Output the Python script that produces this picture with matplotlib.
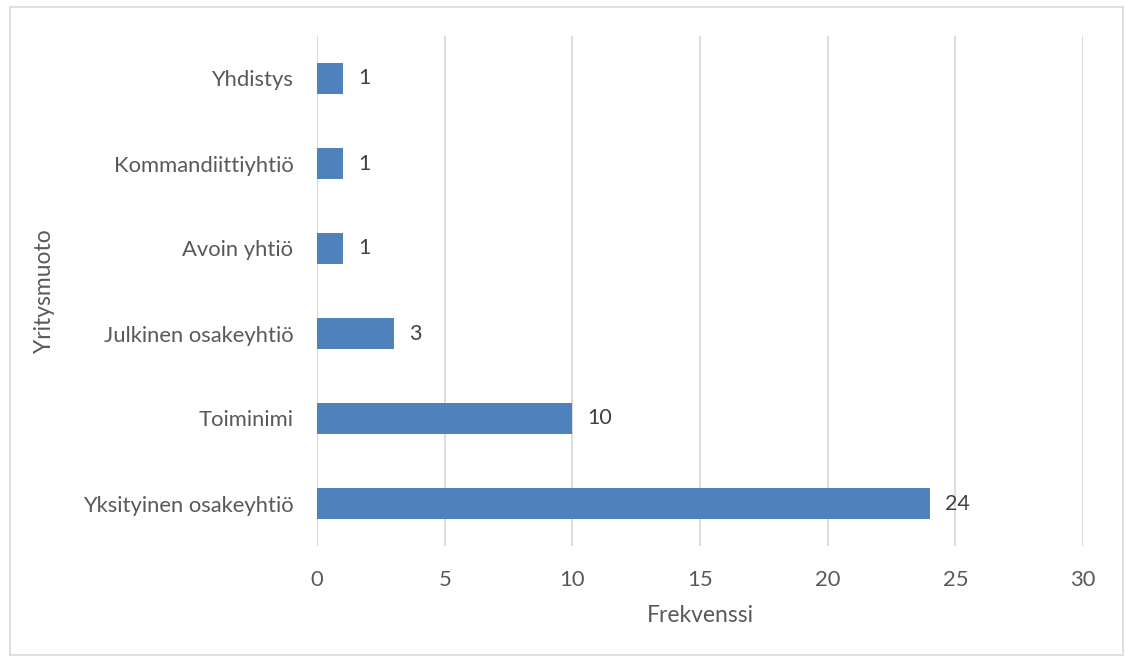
import matplotlib.pyplot as plt
from matplotlib.patches import Rectangle

# company forms and their frequencies (bottom to top)
categories = ['Yksityinen osakeyhtiö', 'Toiminimi', 'Julkinen osakeyhtiö',
              'Avoin yhtiö', 'Kommandiittiyhtiö', 'Yhdistys']
counts = [24, 10, 3, 1, 1, 1]
xticks = [0, 5, 10, 15, 20, 25, 30]

plt.rcParams['font.family'] = ['Lato', 'DejaVu Sans']

fig = plt.figure(figsize=(11.25, 6.61), dpi=100)
ax = fig.add_axes([317 / 1125, 1 - 546 / 661, (1083 - 317) / 1125, (546 - 36) / 661])

pos = list(range(len(categories)))
ax.barh(pos, counts, height=0.353, color='#4F81BD', zorder=3)
for y, v in zip(pos, counts):
    ax.text(v + 0.6, y, str(v), va='center', ha='left', fontsize=15.5, color='#404040')

ax.set_xlim(0, 30)
ax.set_ylim(-0.5, len(categories) - 0.5)
ax.set_xticks(xticks)
ax.set_yticks(pos)
ax.set_yticklabels(categories)
ax.tick_params(axis='both', length=0, labelsize=15.8, labelcolor='#595959')
ax.tick_params(axis='x', pad=17)
ax.tick_params(axis='y', pad=17)
ax.grid(axis='x', color='#D9D9D9', linewidth=1.3, zorder=0)
for s in ax.spines.values():
    s.set_visible(False)
ax.axvline(0, color='#D9D9D9', linewidth=1.3, zorder=1)

ax.set_xlabel('Frekvenssi', fontsize=16.5, color='#595959', labelpad=11)
ax.set_ylabel('Yritysmuoto', fontsize=16.5, color='#595959', labelpad=20)

# outer chart frame
fig.patches.append(Rectangle((10 / 1125, 6 / 661), 1113 / 1125, 648 / 661, transform=fig.transFigure,
                             fill=False, edgecolor='#D9D9D9', linewidth=1.2))

fig.savefig('out.png', dpi=100)
